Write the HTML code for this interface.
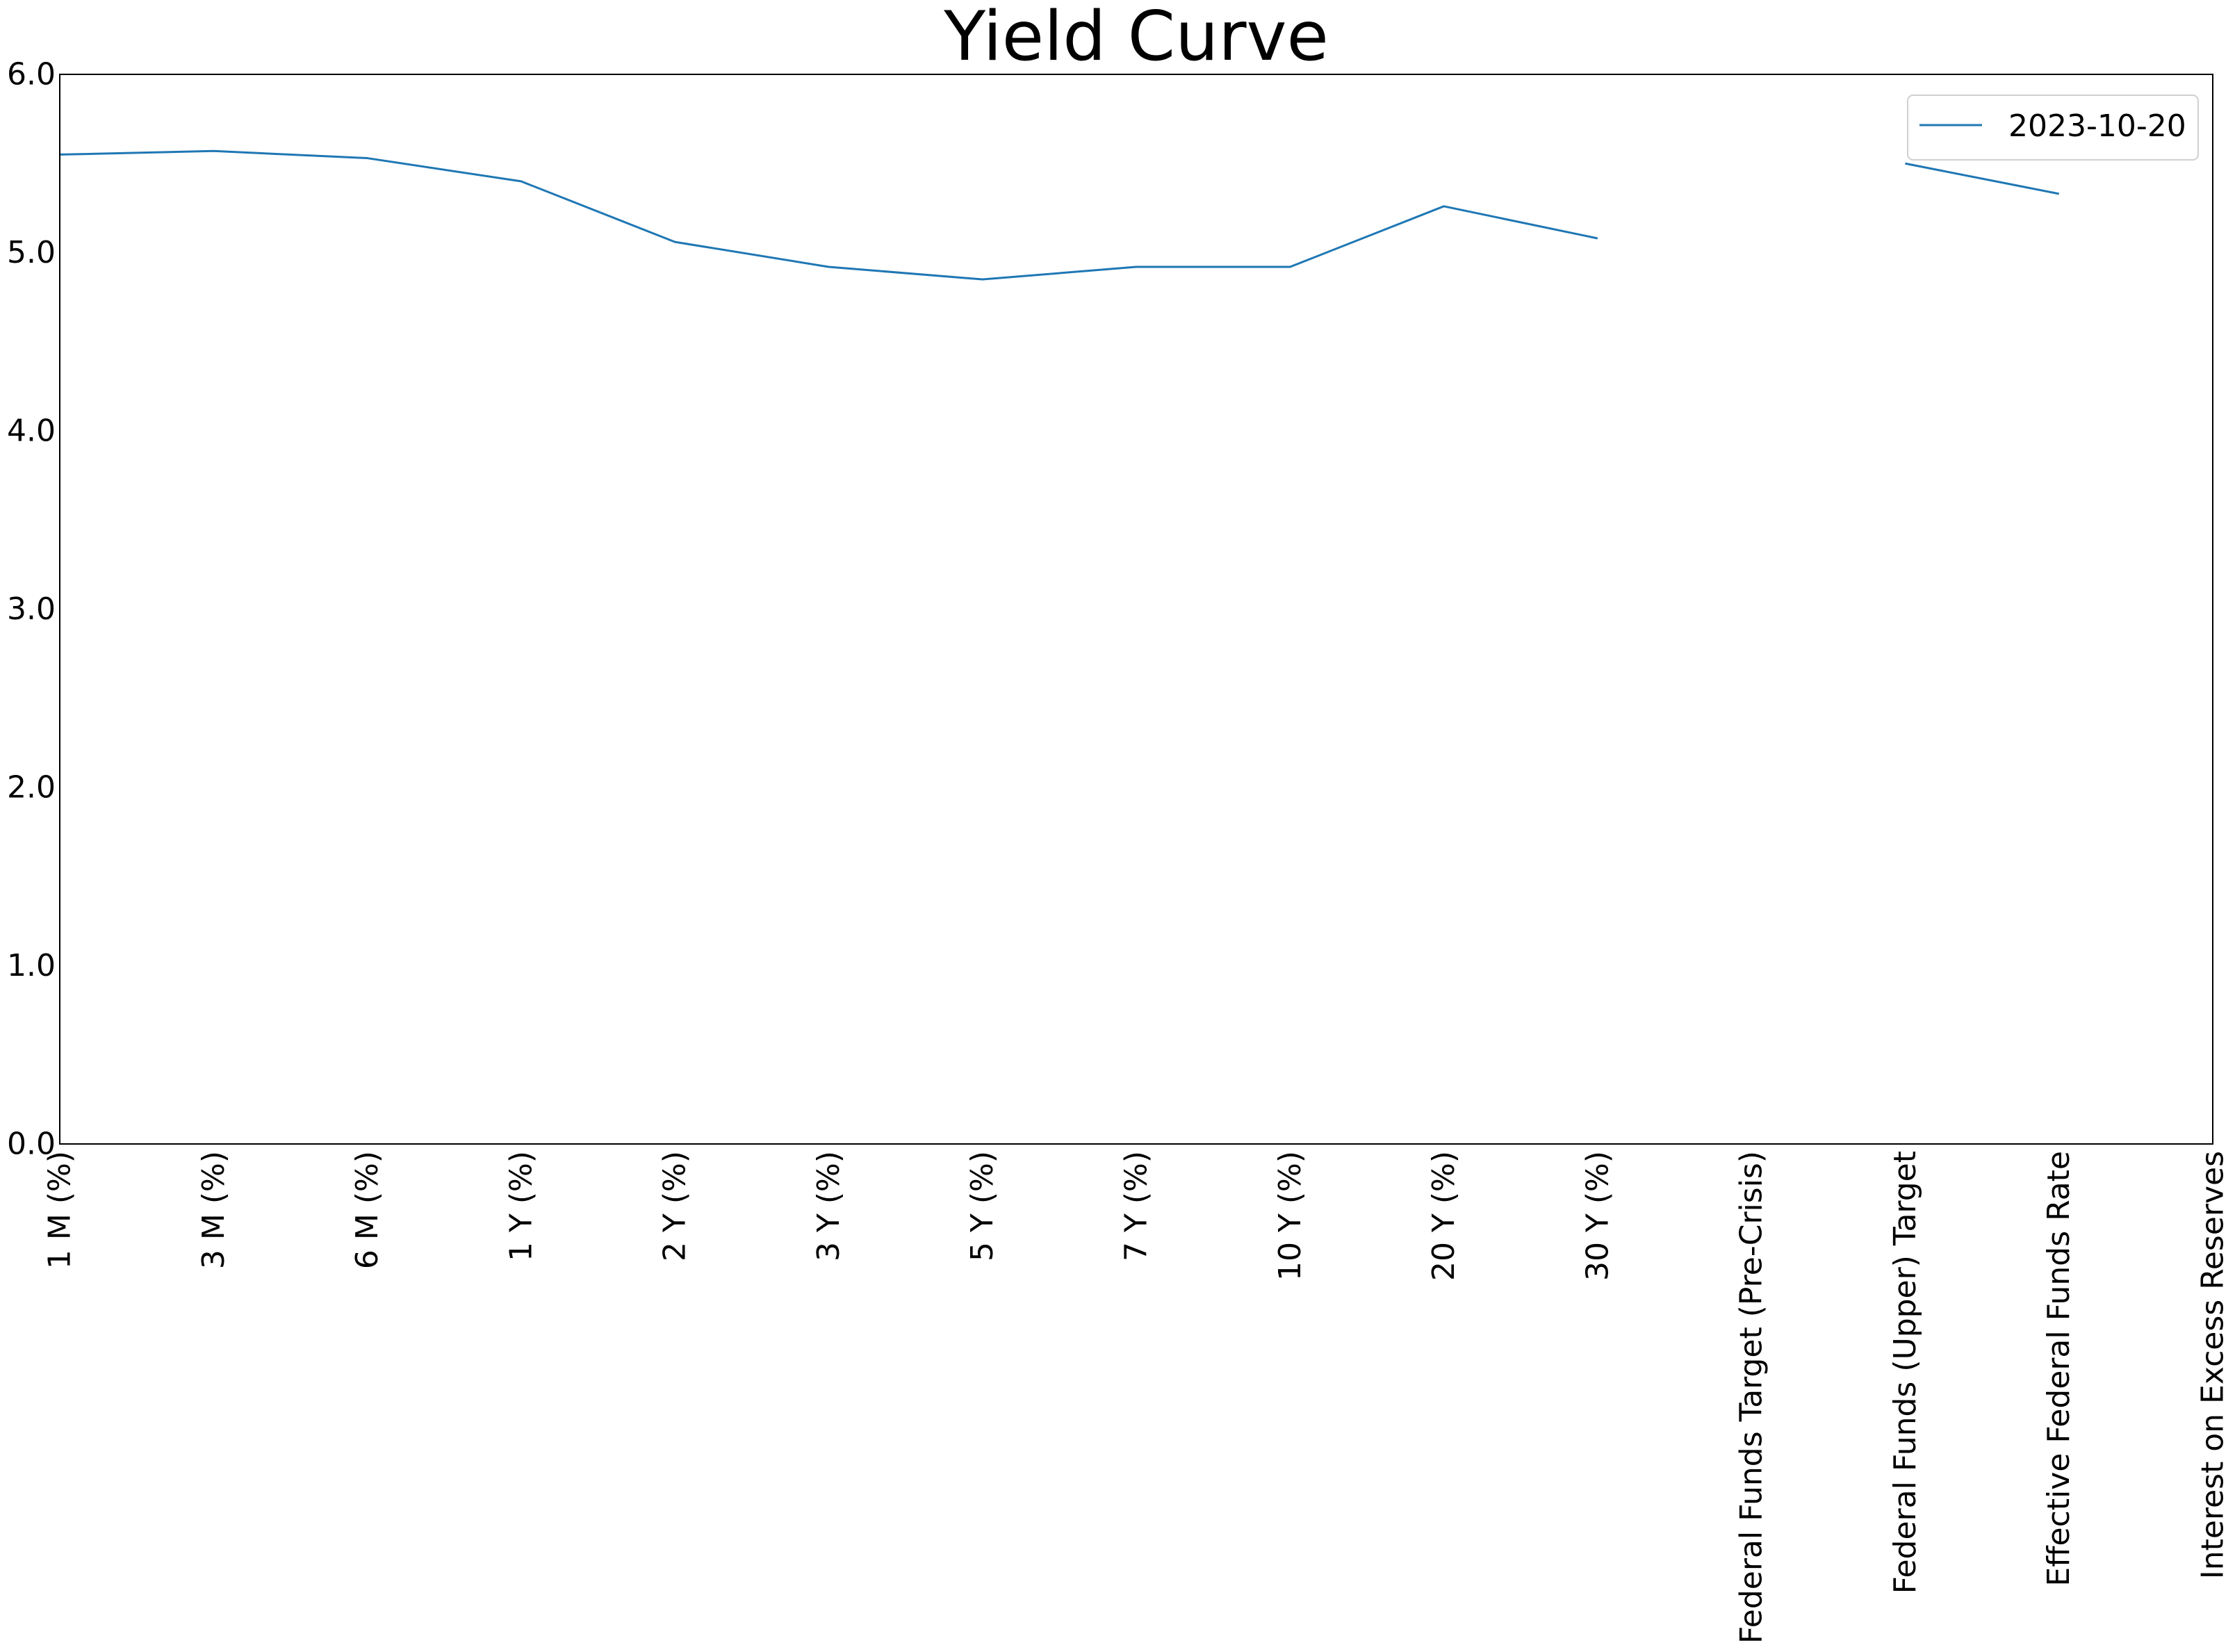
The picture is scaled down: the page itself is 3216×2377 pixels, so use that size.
<!DOCTYPE html>
<html><head><meta charset="utf-8"><style>
html,body{margin:0;padding:0;background:#fff;}
svg{display:block;font-family:"DejaVu Sans","Liberation Sans",sans-serif;}
</style></head><body>
<svg id="chart" width="3216" height="2377" viewBox="0 0 3216 2377" xmlns="http://www.w3.org/2000/svg">
<rect width="3216" height="2377" fill="#fff"/>
<text x="1635" y="86" font-size="98" text-anchor="middle">Yield Curve</text>
<g id="plot"></g>
<rect x="86" y="107" width="3098" height="1539" fill="none" stroke="#000" stroke-width="2"/>
<g>
<rect x="2745" y="137" width="418" height="93" rx="8" fill="#fff" fill-opacity="0.8" stroke="#d0d0d0" stroke-width="2"/>
<line x1="2762" y1="180" x2="2852" y2="180" stroke="#1f77b4" stroke-width="3"/>
<text x="2890" y="196" font-size="44">2023-10-20</text>
</g>
</svg>
<script>
const categories = ["1 M (%)","3 M (%)","6 M (%)","1 Y (%)","2 Y (%)","3 Y (%)","5 Y (%)","7 Y (%)","10 Y (%)","20 Y (%)","30 Y (%)","Federal Funds Target (Pre-Crisis)","Federal Funds (Upper) Target","Effective Federal Funds Rate","Interest on Excess Reserves"];
const values = [5.55,5.57,5.53,5.40,5.06,4.92,4.85,4.92,4.92,5.26,5.08,null,5.50,5.33,null];
const yTicks = [0,1,2,3,4,5,6];
const yTickLabels = ["0.0","1.0","2.0","3.0","4.0","5.0","6.0"];

const L=86,R=3184,T=107,B=1646,yMin=0,yMax=6;
const NS="http://www.w3.org/2000/svg";
const g=document.getElementById('plot');
function xs(i){return L+(R-L)*i/(categories.length-1);}
function ys(v){return B-(v-yMin)/(yMax-yMin)*(B-T);}
function mk(tag,attrs){const e=document.createElementNS(NS,tag);for(const k in attrs)e.setAttribute(k,attrs[k]);return e;}

yTicks.forEach((t,i)=>{
  const tx=mk('text',{x:80,y:ys(t),'font-size':44,'text-anchor':'end','dominant-baseline':'central'});
  
  
  tx.textContent=yTickLabels[i];
  g.appendChild(tx);
});
categories.forEach((c,i)=>{
  const x=xs(i);
  const tx=mk('text',{x:0,y:0,'font-size':44,'text-anchor':'end','dominant-baseline':'central',transform:`translate(${x},1656) rotate(-90)`});
  
  
  tx.textContent=c;
  g.appendChild(tx);
});
let seg=[];
function flush(){
  if(seg.length>1){
    const p=mk('polyline',{points:seg.join(' '),fill:'none',stroke:'#1f77b4','stroke-width':3,'stroke-linejoin':'round'});
    
    
    g.appendChild(p);
  }
  seg=[];
}
values.forEach((v,i)=>{
  if(v===null){flush();return;}
  seg.push(xs(i)+','+ys(v));
});
flush();
</script>
</body></html>
